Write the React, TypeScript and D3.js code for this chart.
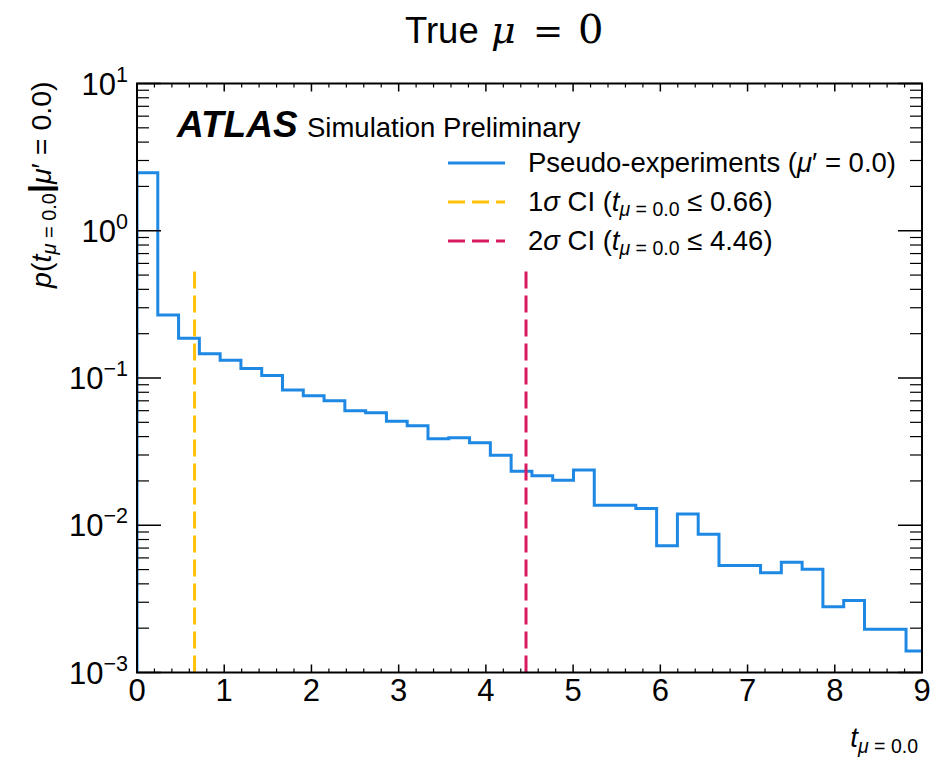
import React from "react";
import * as d3 from "d3";

// ---- data ----
const binWidth = 0.2383;
const densities = [
  2.48, 0.268, 0.186, 0.146, 0.132, 0.116, 0.104, 0.083, 0.0759, 0.0702,
  0.06, 0.0581, 0.0508, 0.0474, 0.0387, 0.0393, 0.0364, 0.0299, 0.0233, 0.0217,
  0.0202, 0.0237, 0.01367, 0.01367, 0.01297, 0.00727, 0.01193, 0.00869, 0.00532, 0.00532,
  0.00476, 0.00561, 0.00503, 0.0028, 0.00308, 0.00197, 0.00197, 0.0014,
];
const ciValues = [0.66, 4.46];
const ciSigma = ["1", "2"];
const ciValueLabels = ["0.66", "4.46"];
const ciTop = 0.58;
const xTickValues = [0, 1, 2, 3, 4, 5, 6, 7, 8, 9];
const yDecades = [-3, -2, -1, 0, 1];

const COLORS = { hist: "#1E88E5", ci1: "#FFC107", ci2: "#D81B60" };
const ciColors = [COLORS.ci1, COLORS.ci2];

const W = 930;
const H = 760;
const X0 = 137, X1 = 922, Y0 = 672.5, Y1 = 83.5;
const FONT = "'Liberation Sans', Arial, Helvetica, sans-serif";
const SERIF = "'DejaVu Serif', 'Liberation Serif', serif";
const DASH = "17 7";

export default function App() {
  const x = d3.scaleLinear().domain([0, 9]).range([X0, X1]);
  const y = d3.scaleLog().domain([1e-3, 1e1]).range([Y0, Y1]);

  const pts: [number, number][] = [[0, 1e-3]];
  densities.forEach((v, i) => pts.push([i * binWidth, v]));
  pts.push([densities.length * binWidth, densities[densities.length - 1]]);
  pts.push([densities.length * binWidth, 1e-3]);
  const line = d3
    .line<[number, number]>()
    .x((d) => x(d[0]))
    .y((d) => y(d[1]))
    .curve(d3.curveStepAfter);

  const xMinor = d3.range(0, 9.0001, 0.2).filter((v) => Math.abs(v - Math.round(v)) > 1e-6);
  const yMinor: number[] = [];
  for (let e = -3; e < 1; e++) for (let m = 2; m <= 9; m++) yMinor.push(m * Math.pow(10, e));

  const tickColor = "#000";
  const legendRows = [172, 211, 250];

  return (
    <svg width={W} height={H} style={{ position: "absolute", left: 0, top: 0, display: "block", background: "#fff" }} fontFamily={FONT}>
      <defs>
        <clipPath id="plotclip">
          <rect x={X0} y={Y1} width={X1 - X0} height={Y0 - Y1} />
        </clipPath>
      </defs>

      {/* title */}
      <text y={43} fontSize={36.5} fill="#000">
        <tspan x={405}>True</tspan>
        <tspan x={491} fontFamily={SERIF} fontStyle="italic" fontSize={38}>μ</tspan>
        <tspan x={533} fontFamily={SERIF} fontSize={36}>=</tspan>
        <tspan x={578} fontFamily={SERIF} fontSize={40}>0</tspan>
      </text>

      {/* histogram */}
      <g clipPath="url(#plotclip)">
        <path d={line(pts) || ""} fill="none" stroke={COLORS.hist} strokeWidth={3} />
        {ciValues.map((v, i) => (
          <line key={i} x1={x(v)} x2={x(v)} y1={y(1e-3)} y2={y(ciTop)} stroke={ciColors[i]} strokeWidth={3} strokeDasharray={DASH} />
        ))}
      </g>

      {/* frame */}
      <rect x={X0} y={Y1} width={X1 - X0} height={Y0 - Y1} fill="none" stroke="#000" strokeWidth={2} />

      {/* x ticks */}
      {xTickValues.map((v) => (
        <g key={"xt" + v}>
          <line x1={x(v)} x2={x(v)} y1={Y0} y2={Y0 - 8} stroke={tickColor} strokeWidth={1.5} />
          <line x1={x(v)} x2={x(v)} y1={Y1} y2={Y1 + 8} stroke={tickColor} strokeWidth={1.5} />
          <text x={x(v)} y={701} fontSize={31} textAnchor="middle">{v}</text>
        </g>
      ))}
      {xMinor.map((v, i) => (
        <g key={"xm" + i}>
          <line x1={x(v)} x2={x(v)} y1={Y0} y2={Y0 - 4} stroke={tickColor} strokeWidth={1.2} />
          <line x1={x(v)} x2={x(v)} y1={Y1} y2={Y1 + 4} stroke={tickColor} strokeWidth={1.2} />
        </g>
      ))}

      {/* y ticks */}
      {yDecades.map((e) => {
        const yy = y(Math.pow(10, e));
        return (
          <g key={"yt" + e}>
            <line x1={X0} x2={X0 + 24} y1={yy} y2={yy} stroke={tickColor} strokeWidth={1.5} />
            <line x1={X1} x2={X1 - 24} y1={yy} y2={yy} stroke={tickColor} strokeWidth={1.5} />
            <text x={128} y={yy + 11} fontSize={31} textAnchor="end">
              10
              <tspan fontSize={21.5} dy={-13}>{e < 0 ? "\u2212" + Math.abs(e) : String(e)}</tspan>
            </text>
          </g>
        );
      })}
      {yMinor.map((v, i) => (
        <g key={"ym" + i}>
          <line x1={X0} x2={X0 + 12} y1={y(v)} y2={y(v)} stroke={tickColor} strokeWidth={1.2} />
          <line x1={X1} x2={X1 - 12} y1={y(v)} y2={y(v)} stroke={tickColor} strokeWidth={1.2} />
        </g>
      ))}

      {/* y label */}
      <text transform={`translate(51,${Y1 - 2}) rotate(-90)`} textAnchor="end" fontSize={28.5}>
        <tspan fontStyle="italic">p</tspan>
        <tspan>(</tspan>
        <tspan fontStyle="italic">t</tspan>
        <tspan fontSize={20} dy={5}>
          <tspan fontStyle="italic">μ</tspan> = 0.0
        </tspan>
        <tspan dy={-5} fontWeight="bold" fontSize={32}>|</tspan>
        <tspan fontStyle="italic">μ</tspan>
        <tspan>′ = 0.0)</tspan>
      </text>

      {/* x label */}
      <text x={918} y={747} fontSize={27.5} textAnchor="end">
        <tspan fontStyle="italic">t</tspan>
        <tspan fontSize={19.5} dy={6}>
          <tspan fontStyle="italic">μ</tspan> = 0.0
        </tspan>
      </text>

      {/* ATLAS label */}
      <text x={177} y={137} fontSize={37} fontWeight="bold" fontStyle="italic">ATLAS</text>
      <text x={307} y={137} fontSize={27.5}>Simulation Preliminary</text>

      {/* legend */}
      <line x1={448} x2={505} y1={legendRows[0] - 9} y2={legendRows[0] - 9} stroke={COLORS.hist} strokeWidth={3} />
      <text x={528} y={legendRows[0]} fontSize={27.5}>
        Pseudo-experiments (<tspan fontStyle="italic">μ</tspan>′ = 0.0)
      </text>
      {ciValues.map((v, i) => (
        <g key={"lg" + i}>
          <line x1={448} x2={505} y1={legendRows[i + 1] - 9} y2={legendRows[i + 1] - 9} stroke={ciColors[i]} strokeWidth={3} strokeDasharray={DASH} />
          <text x={528} y={legendRows[i + 1]} fontSize={27.5}>
            {ciSigma[i]}
            <tspan fontStyle="italic">σ</tspan> CI (
            <tspan fontStyle="italic">t</tspan>
            <tspan fontSize={19.5} dy={5}>
              <tspan fontStyle="italic">μ</tspan> = 0.0
            </tspan>
            <tspan dy={-5}> ≤ {ciValueLabels[i]})</tspan>
          </text>
        </g>
      ))}
    </svg>
  );
}
